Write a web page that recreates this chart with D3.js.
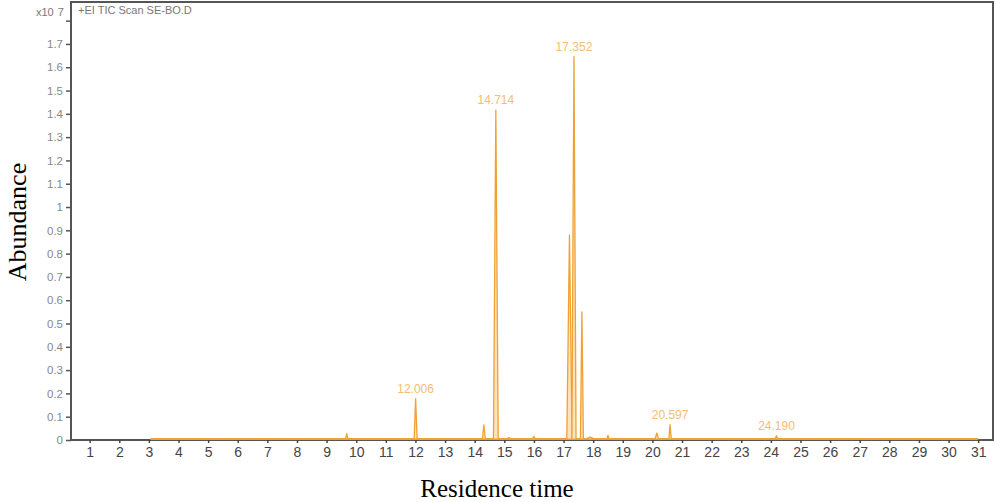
<!DOCTYPE html>
<meta charset="utf-8">
<style>
body { margin: 0; background: #fff; }
</style>
<svg id="svg" width="997" height="502"></svg>
<script src="https://cdn.jsdelivr.net/npm/d3@7"></script>
<script>
// retention time (min) of each peak apex, its abundance (x10^7) and half base width
var peakTimes   = [4.42, 9.68, 12.006, 13.3, 14.31, 14.714, 15.15, 16.0, 17.2, 17.352, 17.62, 17.9, 18.5, 19.9, 20.15, 20.597, 24.19, 29.9];
var peakHeights = [0.004, 0.027, 0.178, 0.006, 0.065, 1.416, 0.01, 0.016, 0.88, 1.645, 0.55, 0.012, 0.02, 0.006, 0.03, 0.066, 0.018, 0.005];
var peakWidths  = [0.06, 0.04, 0.05, 0.05, 0.05, 0.08, 0.08, 0.05, 0.09, 0.07, 0.05, 0.15, 0.04, 0.05, 0.06, 0.04, 0.05, 0.08];

// labelled peaks
var labelTimes  = [12.006, 14.714, 17.352, 20.597, 24.19];
var labelHeights = [0.178, 1.416, 1.645, 0.066, 0.018];
var labelTexts  = ["12.006", "14.714", "17.352", "20.597", "24.190"];

// baseline of the trace
var baseTimes  = [3.05, 31.0];
var baseLevel  = 0.004;

var xTicks = d3.range(1, 32);
var yTicks = [0, 0.1, 0.2, 0.3, 0.4, 0.5, 0.6, 0.7, 0.8, 0.9, 1, 1.1, 1.2, 1.3, 1.4, 1.5, 1.6, 1.7, 1.8];

var svg = d3.select("svg");
var plotLeft = 71, plotRight = 993, plotTop = 2, plotBottom = 440;

var x = d3.scaleLinear().domain([0.37, 31.5]).range([plotLeft, plotRight]);
var y = d3.scaleLinear().domain([0, 1.88]).range([plotBottom, plotTop]);

var orange = "#f0a133";

// frame
svg.append("rect")
    .attr("x", plotLeft).attr("y", plotTop)
    .attr("width", plotRight - plotLeft).attr("height", plotBottom - plotTop)
    .attr("fill", "none")
    .attr("stroke", "#555")
    .attr("stroke-width", 2);

// baseline
var line = d3.line()
    .x(function(d) { return x(d[0]); })
    .y(function(d) { return y(d[1]); });

svg.append("path")
    .attr("d", line(baseTimes.map(function(t) { return [t, baseLevel]; })))
    .attr("stroke", orange)
    .attr("stroke-width", 2)
    .attr("fill", "none");

// peaks
var area = d3.area()
    .x(function(d) { return x(d[0]); })
    .y0(y(baseLevel))
    .y1(function(d) { return y(d[1]); });

var peaks = peakTimes.map(function(t, i) {
    return [[t - peakWidths[i], baseLevel], [t, peakHeights[i]], [t + peakWidths[i], baseLevel]];
});

svg.append("g")
    .selectAll("path")
    .data(peaks)
    .enter().append("path")
    .attr("d", area)
    .attr("fill", "#fde3bd")
    .attr("stroke", orange)
    .attr("stroke-width", 1.3)
    .attr("stroke-linejoin", "round");

// peak labels
svg.append("g")
    .selectAll("text")
    .data(labelTimes)
    .enter().append("text")
    .attr("x", function(d) { return x(d); })
    .attr("y", function(d, i) { return y(labelHeights[i]) - 6; })
    .attr("text-anchor", "middle")
    .attr("font-family", "Liberation Sans, Arial, sans-serif")
    .attr("font-size", 12)
    .attr("fill", "#f4bd74")
    .text(function(d, i) { return labelTexts[i]; });

// y axis
var yAxis = d3.axisLeft(y)
    .tickValues(yTicks)
    .tickSize(5)
    .tickPadding(3)
    .tickFormat(function(d) { return d >= 1.75 ? "" : String(+d.toFixed(1)); });

var gy = svg.append("g")
    .attr("transform", "translate(" + plotLeft + ",0)")
    .call(yAxis);
gy.select(".domain").remove();
gy.selectAll("line").attr("stroke", "#555").attr("stroke-width", 1.5);
gy.selectAll("text")
    .attr("font-family", "Liberation Sans, Arial, sans-serif")
    .attr("font-size", 11.5)
    .attr("fill", "#888");

// x axis
var xAxis = d3.axisBottom(x)
    .tickValues(xTicks)
    .tickSize(3)
    .tickPadding(4)
    .tickFormat(d3.format("d"));

var gx = svg.append("g")
    .attr("transform", "translate(0," + plotBottom + ")")
    .call(xAxis);
gx.select(".domain").remove();
gx.selectAll("line").attr("stroke", "#444").attr("stroke-width", 1.5);
gx.selectAll("text")
    .attr("font-family", "Liberation Sans, Arial, sans-serif")
    .attr("font-size", 14)
    .attr("fill", "#444");

// exponent and trace name
var expo = svg.append("text")
    .attr("x", 36).attr("y", 16)
    .attr("font-family", "Liberation Sans, Arial, sans-serif")
    .attr("font-size", 11)
    .attr("fill", "#777");
expo.append("tspan").text("x10");
expo.append("tspan").attr("dx", 4).text("7");

svg.append("text")
    .attr("x", 78).attr("y", 14)
    .attr("font-family", "Liberation Sans, Arial, sans-serif")
    .attr("font-size", 11)
    .attr("fill", "#777")
    .text("+EI TIC Scan SE-BO.D");

// axis titles
svg.append("text")
    .attr("transform", "translate(26,222) rotate(-90)")
    .attr("text-anchor", "middle")
    .attr("font-family", "Liberation Serif, Times New Roman, serif")
    .attr("font-size", 26)
    .attr("fill", "#000")
    .text("Abundance");

svg.append("text")
    .attr("x", 497).attr("y", 497)
    .attr("text-anchor", "middle")
    .attr("font-family", "Liberation Serif, Times New Roman, serif")
    .attr("font-size", 25)
    .attr("fill", "#000")
    .text("Residence time");
</script>
